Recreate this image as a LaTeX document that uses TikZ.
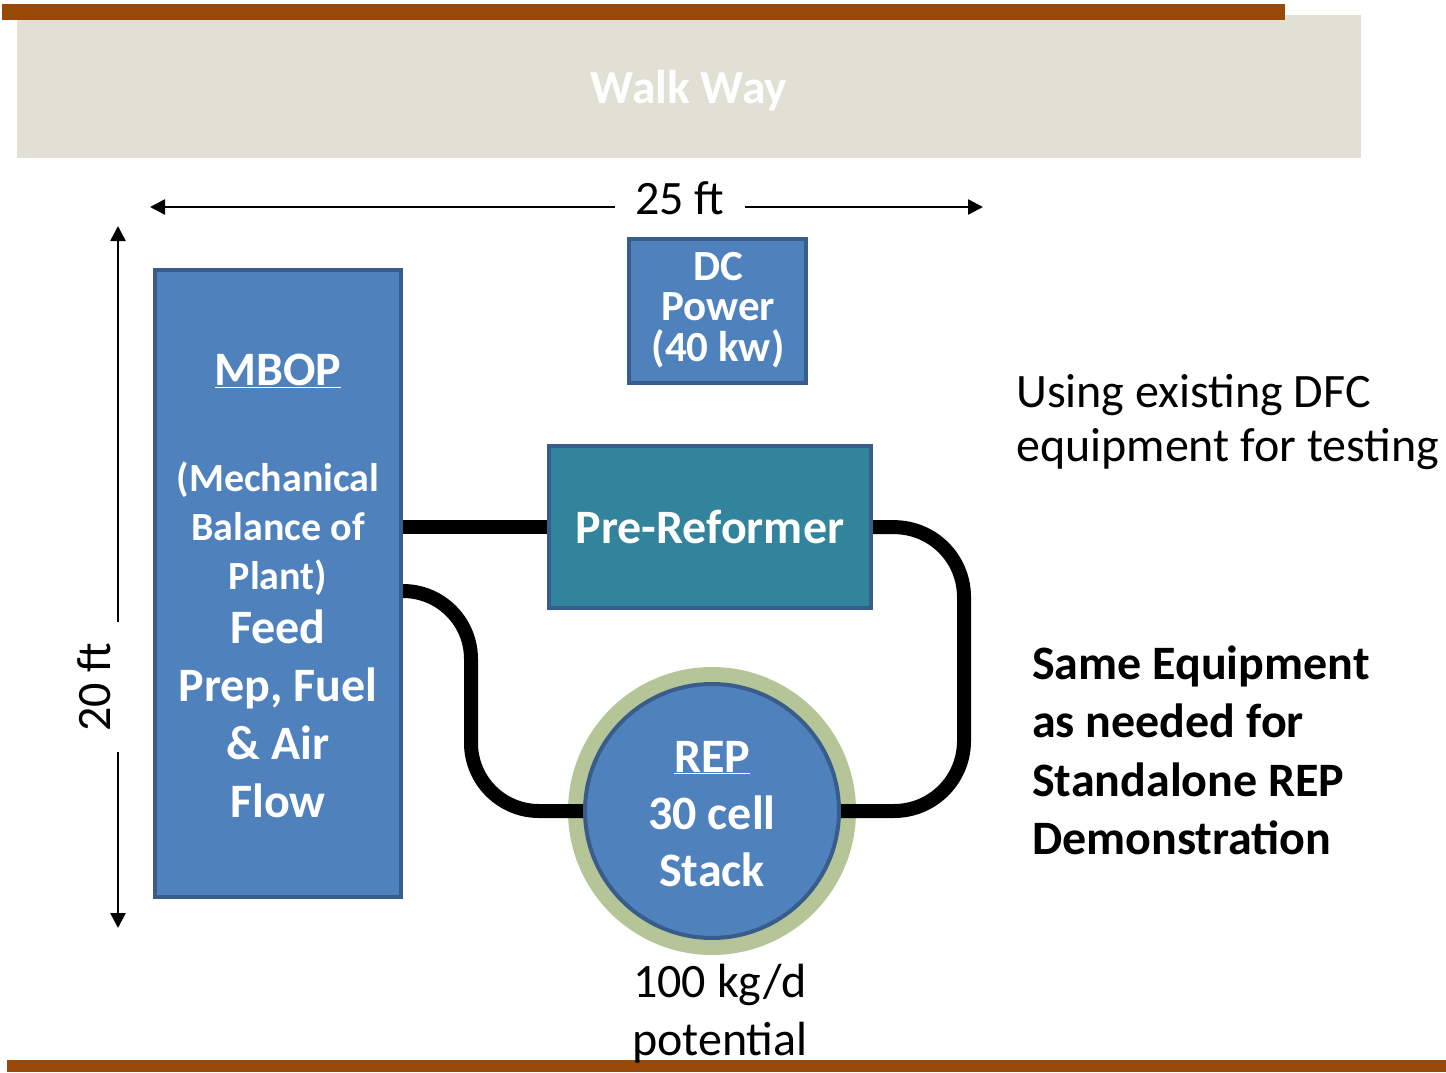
\documentclass[tikz,border=0pt]{standalone}
\usepackage{fontspec}
\setmainfont{Carlito}
\usetikzlibrary{arrows.meta,backgrounds}

\definecolor{brownbar}{HTML}{984807}
\definecolor{walkfill}{HTML}{E1E0D4}
\definecolor{boxblue}{HTML}{4F81BD}
\definecolor{boxedge}{HTML}{385D8A}
\definecolor{reformteal}{HTML}{31849B}
\definecolor{ringgreen}{HTML}{B5C598}

% font size / line pitch
\newcommand\fsize[2]{\fontsize{#1}{#2}\selectfont}
% multi-line blocks with a fixed baseline pitch; baseline of the block = first line
\newcommand\cstack[2]{\vtop{\baselineskip=#1\lineskiplimit=-\maxdimen\halign{\hfil##\hfil\cr#2\crcr}}}
\newcommand\lstack[2]{\vtop{\baselineskip=#1\lineskiplimit=-\maxdimen\halign{##\hfil\cr#2\crcr}}}

\begin{document}
\begin{tikzpicture}[x=1pt,y=-1pt,
  unitbox/.style={draw=boxedge, line width=4pt, fill=boxblue, inner sep=0pt},
  pipe/.style={line width=14pt, black},
  dimline/.style={line width=2.5pt, -{Triangle[length=15pt,width=15pt]}},
  txt/.style={inner sep=0pt, anchor=base},
]
\useasboundingbox (0,0) rectangle (1446,1072);

% walk way strip and the brown edge bars
\node[fill=walkfill, minimum width=1344pt, minimum height=143pt, inner sep=0pt] (walkway) at (689,86.5) {};
\node[txt, text=white] (walktxt) at (689,103) {\fsize{47.5}{57}\bfseries Walk Way};
\fill[brownbar] (2,4) rectangle (1285,20);
\fill[brownbar] (7,1060) rectangle (1446,1072);

% overall dimensions
\node[txt, inner xsep=20pt] (dimw) at (680,214) {\fsize{48}{58}25 ft};
\coordinate (hL) at (150,207);
\coordinate (hR) at (983,207);
\draw[dimline] (dimw.west |- hL) -- (hL);
\draw[dimline] (dimw.east |- hR) -- (hR);

\node[txt, rotate=90, inner xsep=20pt] (dimh) at (110,687) {\fsize{48}{58}20 ft};
\coordinate (vT) at (118,226);
\coordinate (vB) at (118,928);
\draw[dimline] (dimh.east -| vT) -- (vT);
\draw[dimline] (dimh.west -| vB) -- (vB);

% equipment
\node[unitbox, minimum width=246pt, minimum height=627pt] (mbop) at (278,583.5) {};
\node[txt, text=white] (mboptitle) at (278,385) {\fsize{48}{57.5}\bfseries\underline{MBOP}};
\node[txt, text=white] (mbopsub) at (278,491) {\fsize{40}{49}\bfseries\cstack{49pt}{(Mechanical\cr Balance of\cr Plant)}};
\node[txt, text=white] (mbopbody) at (278,643) {\fsize{48}{58}\bfseries\cstack{58pt}{Feed\cr Prep, Fuel\cr \& Air\cr Flow}};

\node[unitbox, minimum width=177pt, minimum height=144.3pt] (dc) at (717.8,310.9) {};
\node[txt, text=white] (dctxt) at (718,280) {\fsize{43}{40.5}\bfseries\cstack{40.5pt}{DC\cr Power\cr (40 kw)}};

\node[unitbox, fill=reformteal, minimum width=321.4pt, minimum height=161.7pt] (pre) at (710,527.2) {};
\node[txt, text=white] (pretxt) at (710,543) {\fsize{48}{57}\bfseries Pre-Reformer};

\node[unitbox, circle, minimum size=254pt] (rep) at (712,811) {};
\node[txt, text=white] (reptxt) at (712,772) {\fsize{48}{57}\bfseries\cstack{57pt}{\underline{REP}\cr 30 cell\cr Stack}};

\node[txt] (cap) at (720,997) {\fsize{48}{58}\cstack{58pt}{100 kg/d\cr potential}};

% notes
\node[txt, anchor=base west] (note1) at (1016,407) {\fsize{48}{54}\lstack{54pt}{Using existing DFC\cr equipment for testing}};
\node[txt, anchor=base west] (note2) at (1032,679) {\fsize{48}{58.5}\bfseries\lstack{58.5pt}{Same Equipment\cr as needed for\cr Standalone REP\cr Demonstration}};

% ring round the stack and the process lines, beneath the units
\begin{pgfonlayer}{background}
  \node[circle, fill=ringgreen, minimum size=288pt, inner sep=0pt] (ring) at (rep.center) {};
  \coordinate (bendL) at (471,591);
  \coordinate (bendR) at (964,527);
  \draw[pipe] (pre.west) -- (pre.west -| mbop.east);
  \draw[pipe, rounded corners=68pt] (mbop.east |- bendL) -- (bendL) -- (bendL |- rep.west) -- (rep.west);
  \draw[pipe, rounded corners=70pt] (pre.east) -- (bendR) -- (bendR |- rep.east) -- (rep.east);
\end{pgfonlayer}
\end{tikzpicture}
\end{document}
